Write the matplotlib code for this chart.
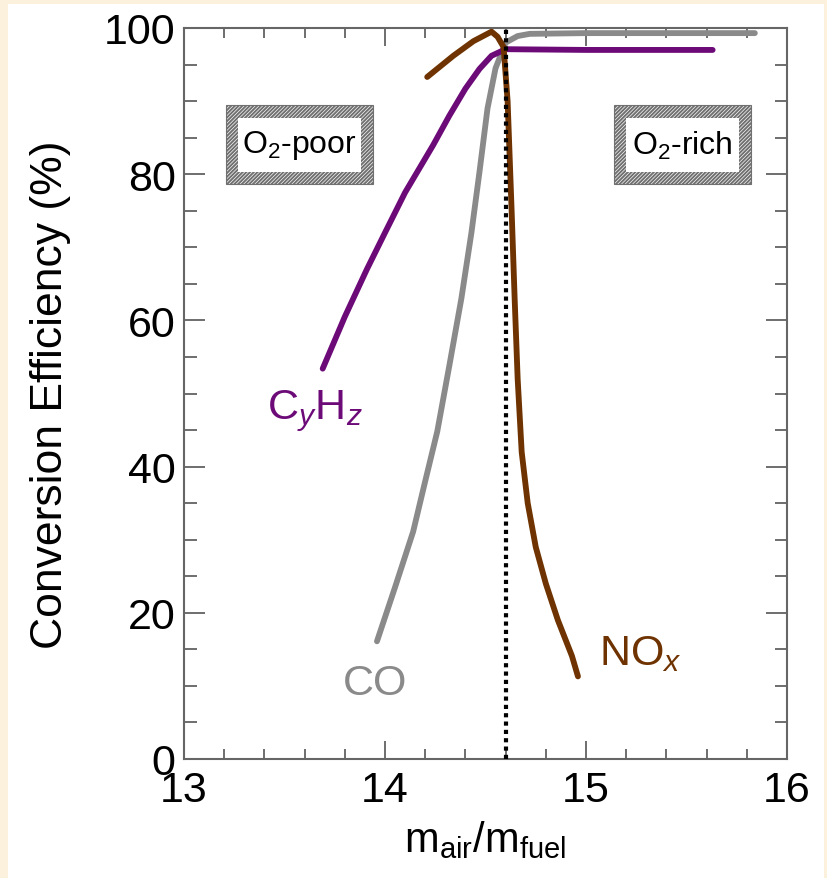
import numpy as np
import matplotlib
matplotlib.use("Agg")
import matplotlib.pyplot as plt
from matplotlib.patches import Rectangle
from matplotlib.ticker import MultipleLocator

plt.rcParams['font.family'] = ['Liberation Sans', 'DejaVu Sans']
plt.rcParams['mathtext.fontset'] = 'custom'
plt.rcParams['mathtext.rm'] = 'Liberation Sans'
plt.rcParams['mathtext.it'] = 'Liberation Sans:italic'
plt.rcParams['hatch.linewidth'] = 1.4

# data (air/fuel mass ratio vs conversion efficiency %)
hc_x = [13.69, 13.80, 13.91, 14.00, 14.10, 14.24, 14.32, 14.40, 14.47, 14.53, 14.60, 15.0, 15.63]
hc_y = [53.4, 60.5, 67.0, 72.0, 77.5, 84.0, 88.0, 91.7, 94.4, 96.2, 97.1, 97.0, 97.0]

co_x = [13.96, 14.05, 14.14, 14.20, 14.26, 14.32, 14.38, 14.43, 14.47, 14.51, 14.55, 14.60, 14.66, 14.72, 15.0, 15.84]
co_y = [16.1, 23.5, 31.1, 38.0, 44.8, 53.8, 63.0, 72.0, 80.3, 89.0, 94.5, 98.0, 98.9, 99.2, 99.3, 99.3]

nox_x = [14.21, 14.34, 14.44, 14.53, 14.56, 14.59, 14.61, 14.63, 14.645, 14.66, 14.68, 14.71, 14.75, 14.80, 14.86, 14.93, 14.96]
nox_y = [93.3, 96.2, 98.2, 99.5, 98.8, 97.4, 90.0, 75.0, 63.0, 52.0, 42.0, 35.0, 29.0, 24.0, 19.0, 14.1, 11.3]

stoich = 14.6

purple = '#6c0a78'
gray = '#8a8a8a'
brown = '#6e3300'

fig = plt.figure(figsize=(8.28, 8.79), dpi=100, facecolor='#fcf1dc')
# white panel inside the cream frame
fig.patches.append(Rectangle((8 / 828, 0), 1 - 12 / 828, 1 - 5 / 879,
                             transform=fig.transFigure, facecolor='white',
                             edgecolor='none', zorder=-10))

ax = fig.add_axes([184 / 828, 119 / 879, 603 / 828, 731 / 879])
ax.set_facecolor('white')

ax.plot(co_x, co_y, color=gray, lw=4.2, solid_capstyle='round', solid_joinstyle='round', zorder=3)
ax.plot(hc_x, hc_y, color=purple, lw=4.2, solid_capstyle='round', solid_joinstyle='round', zorder=3)
ax.axvline(stoich, color='black', lw=3.0, ls=(0, (1, 1)), zorder=4)
ax.plot(nox_x, nox_y, color=brown, lw=4.2, solid_capstyle='round', solid_joinstyle='round', zorder=3)

ax.set_xlim(13, 16)
ax.set_ylim(0, 100)
ax.xaxis.set_major_locator(MultipleLocator(1))
ax.xaxis.set_minor_locator(MultipleLocator(0.2))
ax.yaxis.set_major_locator(MultipleLocator(20))
ax.yaxis.set_minor_locator(MultipleLocator(5))

ax.tick_params(axis='both', which='both', direction='in', top=True, right=True,
               colors='#555555', labelcolor='black', labelsize=31)
ax.tick_params(axis='x', which='major', length=13, width=1.2, pad=8)
ax.tick_params(axis='x', which='minor', length=7, width=1.2)
ax.tick_params(axis='y', which='major', length=15, width=1.2, pad=6)
ax.tick_params(axis='y', which='minor', length=9, width=1.2)
for s in ax.spines.values():
    s.set_color('#666666')
    s.set_linewidth(1.5)

ax.set_ylabel('Conversion Efficiency (%)', fontsize=32, labelpad=24)
ax.set_xlabel(r'm$_\mathrm{air}$/m$_\mathrm{fuel}$', fontsize=30, labelpad=6)

# hatched label boxes
for (x0, x1, txt) in [(13.21, 13.94, r'O$_2$-poor'), (15.14, 15.82, r'O$_2$-rich')]:
    ax.add_patch(Rectangle((x0, 78.6), x1 - x0, 10.8, facecolor='white',
                           edgecolor='#707070', hatch='/////////', lw=0.8, zorder=2))
    ax.add_patch(Rectangle((x0 + 0.06, 80.3), x1 - x0 - 0.12, 7.4,
                           facecolor='white', edgecolor='none', zorder=2))
    ax.text((x0 + x1) / 2, 84.0, txt, fontsize=23, ha='center', va='center', zorder=3)

ax.text(13.65, 47.7, r'C$_{\mathit{y}}$H$_{\mathit{z}}$', color=purple, fontsize=31,
        ha='center', va='center')
ax.text(13.95, 10.4, 'CO', color=gray, fontsize=31, ha='center', va='center')
ax.text(15.27, 14.5, r'NO$_{\mathit{x}}$', color=brown, fontsize=31, ha='center', va='center')

fig.savefig('out.png', dpi=100, facecolor=fig.get_facecolor())
